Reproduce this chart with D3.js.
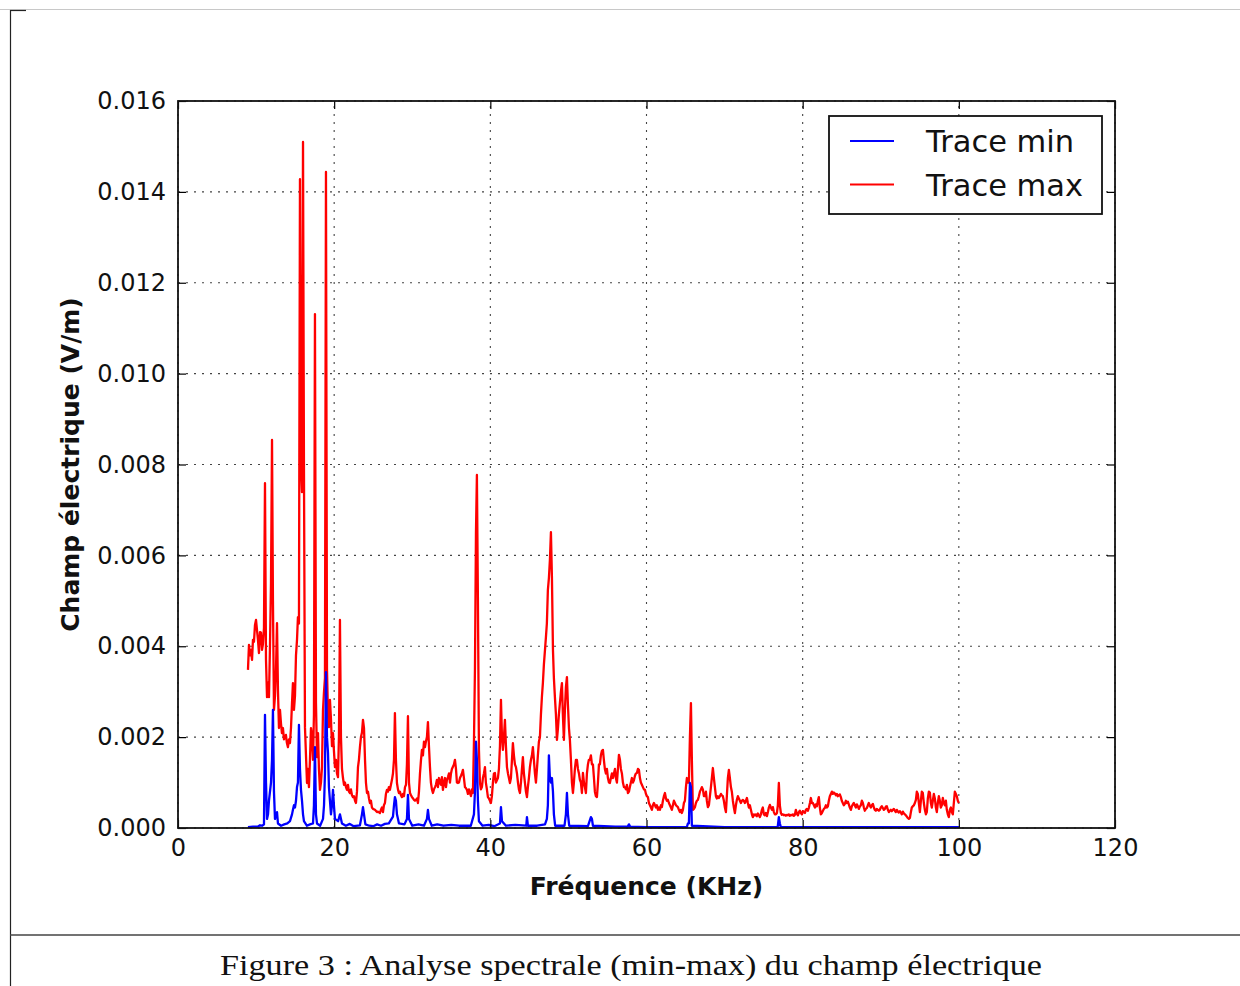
<!DOCTYPE html>
<html><head><meta charset="utf-8">
<script src="https://cdn.jsdelivr.net/npm/d3@7"></script>
<style>html,body{margin:0;padding:0;background:#fff;}svg{display:block;}</style>
</head><body>
<svg id="chart" width="1240" height="986"></svg>
<script>
// ---------- DATA ----------
const xTicks = [0, 20, 40, 60, 80, 100, 120];
const yTicks = [0, 0.002, 0.004, 0.006, 0.008, 0.010, 0.012, 0.014, 0.016];
const seriesNames = ["Trace min", "Trace max"];
const xLabel = "Fréquence (KHz)";
const yLabel = "Champ électrique (V/m)";
const caption = "Figure 3 : Analyse spectrale (min-max) du champ électrique";

// Trace max : [frequency kHz, field V/m]
const traceMax = [
[8.96,.00348],[9.09,.00403],[9.22,.0038],[9.35,.00392],[9.48,.0037],[9.60,.00414],[9.73,.0041],[9.86,.00447],[9.99,.00458],[10.12,.00435],
[10.24,.00414],[10.37,.00385],[10.50,.00431],[10.63,.0043],[10.76,.00392],[10.88,.00405],[11.01,.0044],[11.14,.00759],[11.27,.0037],[11.40,.00288],
[11.53,.0032],[11.65,.00288],[11.78,.004],[11.91,.00539],[12.04,.00854],[12.16,.005],[12.29,.0026],[12.42,.0029],[12.55,.0035],[12.68,.00451],
[12.80,.00304],[12.93,.0022],[13.06,.0026],[13.19,.0023],[13.31,.00209],[13.44,.0022],[13.57,.00195],[13.70,.002],[13.82,.00205],[13.95,.00187],
[14.08,.00178],[14.21,.00195],[14.34,.00187],[14.47,.0022],[14.60,.00275],[14.72,.00319],[14.85,.0026],[14.98,.0029],[15.11,.0038],[15.24,.00414],
[15.36,.00464],[15.49,.0045],[15.62,.01428],[15.75,.008],[15.88,.00739],[16.01,.0151],[16.13,.008],[16.26,.00222],[16.39,.0016],[16.52,.00099],
[16.64,.0013],[16.77,.0009],[16.90,.0015],[17.03,.0022],[17.16,.002],[17.29,.0015],[17.41,.0025],[17.54,.01131],[17.67,.00275],[17.80,.00156],
[17.93,.00209],[18.05,.0013],[18.18,.00084],[18.31,.001],[18.44,.00134],[18.57,.0026],[18.70,.003],[18.82,.0033],[18.95,.01444],[19.08,.0035],
[19.21,.0025],[19.33,.00222],[19.46,.00282],[19.59,.0024],[19.72,.0018],[19.85,.00209],[19.97,.0017],[20.10,.00134],[20.23,.0015],[20.36,.0012],
[20.49,.00112],[20.61,.002],[20.74,.00458],[20.87,.002],[21.00,.0013],[21.13,.0011],[21.26,.00095],[21.38,.001],[21.51,.0009],[21.64,.00084],
[21.77,.00095],[21.89,.0008],[22.02,.00077],[22.15,.00085],[22.28,.00072],[22.41,.00068],[22.54,.0007],[22.67,.0006],[22.79,.00055],[22.92,.0008],
[23.05,.00134],[23.17,.0015],[23.30,.00178],[23.43,.002],[23.56,.0021],[23.69,.00238],[23.82,.0022],[23.95,.0015],[24.07,.001],[24.20,.00077],
[24.33,.0008],[24.46,.00065],[24.58,.00055],[24.71,.0006],[24.84,.00045],[24.97,.00042],[25.22,.0004],[25.48,.00035],[25.61,.00036],[25.86,.00033],
[25.99,.0004],[26.12,.00045],[26.25,.00035],[26.37,.0005],[26.50,.00055],[26.63,.00075],[26.76,.00084],[26.89,.0008],[27.01,.0009],[27.14,.00084],
[27.27,.00095],[27.40,.00106],[27.53,.0012],[27.66,.0015],[27.78,.00253],[27.91,.0015],[28.04,.00099],[28.17,.00085],[28.29,.00077],[28.42,.0008],
[28.55,.00072],[28.68,.00068],[28.81,.00075],[28.94,.0007],[29.07,.0009],[29.20,.00095],[29.32,.0014],[29.45,.00246],[29.58,.001],[29.71,.00077],
[29.84,.00072],[29.97,.00068],[30.10,.00065],[30.22,.00062],[30.35,.0006],[30.48,.00062],[30.61,.00065],[30.73,.00055],[30.86,.0008],[30.99,.0012],
[31.12,.0015],[31.24,.00172],[31.37,.0016],[31.50,.0019],[31.63,.00178],[31.75,.0019],[31.88,.002],[32.01,.00233],[32.14,.0018],[32.27,.00134],
[32.39,.001],[32.52,.00085],[32.65,.00077],[32.78,.00085],[32.91,.0009],[33.03,.00095],[33.16,.00106],[33.29,.0009],[33.42,.0011],[33.55,.001],
[33.68,.00095],[33.80,.00112],[33.93,.00084],[34.06,.001],[34.19,.0011],[34.32,.0009],[34.44,.00106],[34.57,.00112],[34.70,.0012],[34.83,.001],
[34.96,.0012],[35.08,.0013],[35.21,.00135],[35.34,.0014],[35.47,.0015],[35.60,.0013],[35.72,.001],[35.85,.00099],[35.98,.001],[36.11,.0011],
[36.24,.00115],[36.36,.0012],[36.49,.00128],[36.62,.0011],[36.75,.0009],[36.87,.00088],[37.00,.00084],[37.13,.00075],[37.26,.00085],[37.39,.00077],
[37.52,.0007],[37.64,.00085],[37.77,.00077],[37.90,.00187],[38.03,.0035],[38.16,.0065],[38.28,.00777],[38.41,.005],[38.54,.00172],[38.67,.001],
[38.79,.00085],[38.92,.0009],[39.05,.0011],[39.18,.0012],[39.31,.00134],[39.43,.001],[39.56,.00085],[39.69,.00068],[39.82,.00065],[39.95,.0006],
[40.07,.00055],[40.20,.0007],[40.33,.001],[40.46,.0012],[40.59,.00121],[40.71,.001],[40.84,.00105],[40.97,.0011],[41.10,.0013],[41.23,.0018],
[41.36,.00282],[41.49,.002],[41.61,.00172],[41.74,.002],[41.87,.00238],[42.00,.0018],[42.13,.00134],[42.26,.0012],[42.38,.0011],[42.51,.00099],
[42.64,.0011],[42.77,.0015],[42.89,.00187],[43.02,.0016],[43.15,.0014],[43.28,.00134],[43.41,.0012],[43.54,.001],[43.66,.00085],[43.79,.00077],
[43.92,.001],[44.05,.0013],[44.17,.00156],[44.30,.0012],[44.43,.001],[44.56,.0008],[44.69,.00068],[44.81,.0009],[44.94,.0011],[45.07,.00134],
[45.20,.0015],[45.33,.0016],[45.45,.00178],[45.58,.0015],[45.71,.0012],[45.84,.001],[45.97,.0013],[46.09,.0016],[46.22,.0019],[46.35,.002],
[46.48,.0025],[46.61,.0029],[46.73,.00319],[46.86,.0036],[46.99,.0039],[47.12,.0042],[47.24,.0045],[47.37,.00524],[47.50,.0055],[47.63,.0059],
[47.76,.00651],[47.89,.0055],[48.02,.00392],[48.14,.0033],[48.27,.00288],[48.40,.0025],[48.53,.00194],[48.66,.0022],[48.78,.0025],[48.91,.00275],
[49.04,.003],[49.17,.00319],[49.29,.0025],[49.42,.00194],[49.55,.0026],[49.68,.0031],[49.81,.00332],[49.94,.0027],[50.07,.0022],[50.19,.00194],
[50.32,.0015],[50.45,.001],[50.58,.00077],[50.70,.001],[50.83,.0013],[50.96,.0015],[51.09,.0015],[51.22,.0013],[51.35,.0012],[51.47,.00106],
[51.60,.001],[51.73,.00077],[51.86,.00121],[51.99,.001],[52.11,.0009],[52.24,.00077],[52.37,.0012],[52.50,.0014],[52.62,.0015],[52.75,.0015],
[52.88,.0016],[53.01,.0014],[53.14,.0014],[53.27,.0011],[53.39,.0008],[53.52,.0007],[53.65,.00068],[53.78,.001],[53.91,.0014],[54.03,.0014],
[54.16,.0016],[54.29,.0017],[54.42,.00172],[54.54,.0015],[54.67,.0013],[54.80,.0012],[54.93,.0013],[55.06,.0011],[55.19,.001],[55.31,.00099],
[55.44,.0011],[55.57,.0012],[55.70,.0011],[55.83,.0012],[55.96,.0013],[56.08,.0011],[56.21,.001],[56.34,.0013],[56.47,.00161],[56.60,.0015],
[56.72,.0013],[56.85,.0012],[56.98,.001],[57.11,.0009],[57.23,.0009],[57.36,.00085],[57.49,.00095],[57.62,.00077],[57.75,.0008],[57.87,.0009],
[58.00,.001],[58.13,.0011],[58.26,.001],[58.39,.00105],[58.52,.00115],[58.64,.0012],[58.77,.00121],[58.90,.0013],[59.03,.00128],[59.16,.0011],
[59.28,.001],[59.41,.00095],[59.54,.0009],[59.67,.00085],[59.80,.00084],[59.93,.00075],[60.05,.0007],[60.18,.00068],[60.31,.00055],[60.44,.0005],
[60.57,.00045],[60.69,.0004],[60.82,.0005],[60.95,.00055],[61.08,.0005],[61.21,.00045],[61.33,.0005],[61.46,.0004],[61.59,.00045],[61.72,.0004],
[61.85,.0005],[61.97,.00046],[62.10,.0006],[62.23,.0007],[62.36,.00077],[62.49,.00065],[62.61,.0006],[62.74,.00062],[62.87,.00055],[63.00,.0005],
[63.13,.00045],[63.25,.0004],[63.38,.0005],[63.51,.0006],[63.64,.00055],[63.77,.0005],[63.89,.00048],[64.02,.00046],[64.15,.0004],[64.28,.00035],
[64.41,.0004],[64.53,.00033],[64.66,.0004],[64.79,.00055],[64.92,.0006],[65.05,.0009],[65.17,.0011],[65.30,.001],[65.43,.001],[65.56,.002],
[65.69,.00275],[65.81,.0015],[65.94,.0004],[66.07,.00042],[66.20,.00046],[66.33,.00055],[66.45,.0006],[66.58,.00062],[66.71,.0007],[66.84,.0008],
[66.97,.00085],[67.09,.0009],[67.22,.00085],[67.35,.0007],[67.48,.0007],[67.61,.0008],[67.73,.0006],[67.86,.00046],[67.99,.0005],[68.12,.0007],
[68.25,.0009],[68.37,.0011],[68.50,.00132],[68.63,.0011],[68.76,.0009],[68.89,.0007],[69.01,.00065],[69.14,.0007],[69.27,.00066],[69.40,.0007],
[69.53,.00075],[69.65,.00072],[69.78,.0007],[69.91,.0006],[70.04,.00045],[70.17,.00035],[70.29,.0007],[70.42,.0011],[70.55,.00128],[70.68,.0011],
[70.81,.0009],[70.93,.0008],[71.06,.0006],[71.19,.00045],[71.32,.00033],[71.45,.0005],[71.57,.00062],[71.70,.0007],[71.83,.00065],[71.96,.0006],
[72.09,.00055],[72.21,.0006],[72.34,.00062],[72.47,.0006],[72.60,.00055],[72.73,.0006],[72.86,.00066],[72.98,.00055],[73.11,.00045],[73.24,.0005],
[73.37,.0004],[73.50,.0003],[73.62,.00024],[73.75,.0003],[73.88,.00028],[74.01,.0003],[74.14,.00026],[74.27,.00032],[74.39,.00028],[74.52,.00024],
[74.65,.0003],[74.78,.0004],[74.90,.00045],[75.03,.0003],[75.16,.00028],[75.29,.00033],[75.42,.00026],[75.55,.00035],[75.67,.00045],[75.80,.00051],
[75.93,.00045],[76.06,.0004],[76.18,.00046],[76.31,.00035],[76.44,.0003],[76.57,.0003],[76.70,.00033],[76.82,.0005],[76.95,.00099],[77.08,.0005],
[77.21,.00033],[77.34,.00029],[77.47,.0003],[77.59,.00028],[77.72,.00029],[77.85,.00027],[77.98,.00029],[78.11,.00028],[78.23,.0003],[78.36,.00027],
[78.49,.00029],[78.62,.00028],[78.75,.0003],[78.88,.00027],[79.00,.00029],[79.13,.0004],[79.26,.00031],[79.39,.00028],[79.52,.00035],[79.64,.00038],
[79.77,.00033],[79.90,.0003],[80.03,.00037],[80.16,.00035],[80.29,.00033],[80.41,.0004],[80.54,.00042],[80.67,.00038],[80.80,.00045],[80.93,.00055],
[81.05,.00066],[81.18,.00055],[81.31,.00055],[81.44,.0005],[81.57,.00045],[81.69,.00052],[81.82,.00048],[81.95,.0006],[82.07,.00068],[82.20,.00045],
[82.33,.0003],[82.46,.00033],[82.59,.00038],[82.71,.00042],[82.84,.00044],[82.97,.0005],[83.10,.00045],[83.23,.00048],[83.35,.0006],[83.48,.0007],
[83.61,.00075],[83.74,.0008],[83.87,.00075],[83.99,.00078],[84.12,.00076],[84.25,.00072],[84.38,.00075],[84.50,.0007],[84.63,.00072],[84.76,.00074],
[84.89,.00068],[85.01,.0006],[85.14,.00055],[85.27,.0005],[85.40,.00053],[85.53,.0006],[85.65,.00055],[85.79,.00058],[85.91,.00052],[86.04,.00045],
[86.17,.0004],[86.30,.00048],[86.43,.00052],[86.55,.00055],[86.68,.0005],[86.81,.00045],[86.94,.00052],[87.07,.00048],[87.19,.00042],[87.32,.00047],
[87.45,.0005],[87.58,.0006],[87.71,.00055],[87.84,.00045],[87.96,.00038],[88.09,.00042],[88.22,.00044],[88.35,.0005],[88.47,.00055],[88.60,.00049],
[88.73,.00045],[88.86,.0005],[88.99,.00053],[89.12,.00045],[89.24,.0004],[89.37,.00038],[89.50,.00042],[89.63,.0004],[89.76,.00038],[89.88,.0004],
[90.01,.00045],[90.14,.00048],[90.27,.00044],[90.40,.0004],[90.52,.00042],[90.65,.00047],[90.78,.00048],[90.91,.0004],[91.04,.00035],[91.17,.00038],
[91.29,.0004],[91.42,.00037],[91.55,.0004],[91.68,.00042],[91.81,.00038],[91.93,.00035],[92.06,.0004],[92.19,.00036],[92.32,.00034],[92.45,.00037],
[92.57,.00034],[92.70,.0003],[92.83,.00036],[92.96,.00032],[93.09,.0003],[93.21,.00028],[93.34,.00025],[93.47,.00022],[93.60,.0002],[93.73,.00022],
[93.86,.00035],[93.98,.00045],[94.11,.00048],[94.24,.0005],[94.37,.00055],[94.50,.00062],[94.62,.0008],[94.75,.00075],[94.88,.00055],[95.01,.00035],
[95.14,.0006],[95.26,.0008],[95.39,.00077],[95.52,.00055],[95.65,.0004],[95.78,.0003],[95.90,.00035],[96.03,.00065],[96.16,.0008],[96.29,.00078],
[96.42,.00055],[96.54,.00045],[96.67,.0006],[96.80,.00075],[96.93,.00065],[97.06,.00045],[97.18,.00035],[97.31,.00055],[97.44,.0007],[97.57,.0006],
[97.69,.00045],[97.82,.0005],[97.95,.00066],[98.08,.00055],[98.21,.0005],[98.34,.0006],[98.46,.0004],[98.59,.0003],[98.72,.00024],[98.85,.0004],
[98.98,.00045],[99.10,.00035],[99.23,.0003],[99.36,.00055],[99.49,.0008],[99.62,.00075],[99.74,.0007],[99.87,.0006],[100.0,.00055]
];

// Trace min : [frequency kHz, field V/m]
const traceMin = [
[8.96,.00002],[9.6,.00003],[10.2,.00003],[10.5,.00006],[10.8,.00005],[11.01,.00008],[11.14,.00249],[11.27,.001],[11.40,.0002],[11.53,.0003],[11.65,.0006],
[11.78,.0008],[11.91,.001],[12.04,.0015],[12.16,.0026],[12.29,.0008],[12.42,.0002],[12.55,.0003],[12.68,.00035],[12.80,.0001],[13.2,.00005],
[13.6,.00008],[14.0,.0001],[14.34,.00015],[14.60,.0003],[14.72,.0004],[14.85,.0005],[14.98,.00045],[15.11,.0006],[15.24,.0009],[15.36,.001],
[15.49,.00227],[15.62,.0013],[15.75,.00084],[15.88,.0006],[16.01,.0003],[16.13,.00015],[16.5,.00005],[16.9,.00008],[17.29,.0001],[17.41,.0005],
[17.54,.00178],[17.67,.0003],[17.80,.0001],[18.2,.00005],[18.57,.0002],[18.70,.0005],[18.82,.0012],[18.95,.00343],[19.08,.002],[19.21,.00165],
[19.33,.0009],[19.46,.0006],[19.59,.0003],[19.72,.0005],[19.85,.00084],[19.97,.0005],[20.10,.0002],[20.5,.00015],[20.74,.0003],[21.0,.0001],
[21.5,.00005],[22.0,.00009],[22.5,.00004],[23.3,.00006],[23.56,.0003],[23.69,.00046],[23.82,.0003],[24.0,.00008],[24.5,.00005],[25.0,.00004],[25.5,.00008],[26.0,.00005],[26.5,.00009],[27.0,.0001],
[27.53,.00025],[27.66,.0005],[27.78,.00068],[27.91,.0006],[28.04,.0003],[28.3,.0001],[29.0,.00008],[29.32,.0002],[29.45,.00073],[29.58,.0002],
[30.0,.00005],[30.8,.00008],[31.5,.00005],[31.88,.0002],[32.01,.0004],[32.14,.0002],[32.5,.00005],[33.2,.00008],[34,.00005],[35,.00007],[36,.00005],[37.5,.00005],[37.90,.0003],
[38.03,.0008],[38.16,.0019],[38.28,.0015],[38.41,.0006],[38.54,.00015],[39,.00005],[39.8,.00007],[40.5,.00004],[41.23,.0001],[41.36,.00046],[41.49,.00015],
[42,.00005],[43.2,.00007],[44.6,.00005],[44.69,.00024],[44.81,.00005],[46,.00005],[47.0,.00008],[47.24,.0002],[47.37,.0005],[47.50,.0016],[47.63,.0011],
[47.76,.001],[47.89,.0011],[48.02,.0008],[48.14,.0003],[48.3,.00005],[49.5,.00005],[49.68,.0003],[49.81,.00077],[49.94,.0003],[50.1,.00005],
[52.5,.00004],[52.88,.00024],[53.01,.0002],[53.14,.00005],[56,.00003],[57.6,.00003],[57.75,.00008],[57.9,.00003],[60,.00002],[65.17,.00002],
[65.30,.0001],[65.43,.0001],[65.56,.00099],[65.69,.0009],[65.81,.00005],[70,.00002],[76.8,.00002],[76.95,.00024],[77.08,.0001],[77.2,.00002],
[100,.00002]
];

// ---------- DRAWING ----------
const svg = d3.select("#chart");
const plot = {left: 178, right: 1115, top: 101, bottom: 828};
const x = d3.scaleLinear().domain([0, 120]).range([plot.left, plot.right]);
const y = d3.scaleLinear().domain([0, 0.016]).range([plot.bottom, plot.top]);
const tickFont = "'DejaVu Sans', Verdana, sans-serif";

// outer page frame
svg.append("line").attr("x1", 0).attr("x2", 1240).attr("y1", 9.5).attr("y2", 9.5)
  .attr("stroke", "#c8c8c8").attr("stroke-width", 1);
svg.append("line").attr("x1", 10).attr("x2", 26).attr("y1", 10.5).attr("y2", 10.5)
  .attr("stroke", "#222").attr("stroke-width", 1.2);
svg.append("line").attr("x1", 10.5).attr("x2", 10.5).attr("y1", 10).attr("y2", 986)
  .attr("stroke", "#222").attr("stroke-width", 1.2);
svg.append("line").attr("x1", 10).attr("x2", 1240).attr("y1", 935).attr("y2", 935)
  .attr("stroke", "#444").attr("stroke-width", 1.6);

// grid
const grid = svg.append("g").attr("stroke", "#444").attr("stroke-width", 1.1)
  .attr("stroke-dasharray", "2,6");
grid.selectAll(".gx").data(xTicks).join("line")
  .attr("x1", d => x(d)).attr("x2", d => x(d)).attr("y1", plot.bottom).attr("y2", plot.top);
grid.selectAll(".gy").data(yTicks).join("line")
  .attr("y1", d => y(d)).attr("y2", d => y(d)).attr("x1", plot.left).attr("x2", plot.right);

// data lines
const line = d3.line().x(d => x(d[0])).y(d => y(d[1]));
svg.append("path").datum(traceMax).attr("d", line)
  .attr("fill", "none").attr("stroke", "#ff0000").attr("stroke-width", 2.3).attr("stroke-linejoin", "round");
svg.append("path").datum(traceMin).attr("d", line)
  .attr("fill", "none").attr("stroke", "#0000ff").attr("stroke-width", 2.3).attr("stroke-linejoin", "round");

// axes (ticks inside, matplotlib classic)
function styleAxis(g) {
  g.select(".domain").remove();
  g.selectAll(".tick line").attr("stroke", "#000").attr("stroke-width", 1.2);
  g.selectAll(".tick text").attr("fill", "#111").style("font-family", tickFont).style("font-size", "24px");
}
svg.append("g").attr("transform", `translate(0,${plot.bottom})`)
  .call(d3.axisBottom(x).tickValues(xTicks).tickSizeInner(-8).tickSizeOuter(0).tickPadding(11).tickFormat(d3.format("d")))
  .call(styleAxis);
svg.append("g").attr("transform", `translate(0,${plot.top})`)
  .call(d3.axisTop(x).tickValues(xTicks).tickSizeInner(-8).tickSizeOuter(0).tickFormat(""))
  .call(styleAxis);
svg.append("g").attr("transform", `translate(${plot.left},0)`)
  .call(d3.axisLeft(y).tickValues(yTicks).tickSizeInner(-8).tickSizeOuter(0).tickPadding(12).tickFormat(d3.format(".3f")))
  .call(styleAxis);
svg.append("g").attr("transform", `translate(${plot.right},0)`)
  .call(d3.axisRight(y).tickValues(yTicks).tickSizeInner(-8).tickSizeOuter(0).tickFormat(""))
  .call(styleAxis);

// plot frame
svg.append("rect").attr("x", plot.left).attr("y", plot.top)
  .attr("width", plot.right - plot.left).attr("height", plot.bottom - plot.top)
  .attr("fill", "none").attr("stroke", "#111").attr("stroke-width", 1.8);

// axis labels
svg.append("text").attr("x", (plot.left + plot.right) / 2).attr("y", 895)
  .attr("text-anchor", "middle").style("font-family", tickFont).style("font-weight", "bold")
  .style("font-size", "25px").attr("fill", "#111").text(xLabel);
svg.append("text").attr("transform", `translate(79,${(plot.top + plot.bottom) / 2}) rotate(-90)`)
  .attr("text-anchor", "middle").style("font-family", tickFont).style("font-weight", "bold")
  .style("font-size", "25px").attr("fill", "#111").text(yLabel);

// legend
const lg = svg.append("g");
lg.append("rect").attr("x", 829).attr("y", 116).attr("width", 273).attr("height", 98)
  .attr("fill", "#fff").attr("stroke", "#111").attr("stroke-width", 1.8);
const legColors = ["#0000ff", "#ff0000"];
seriesNames.forEach((name, i) => {
  const cy = 141 + i * 43.5;
  lg.append("line").attr("x1", 850).attr("x2", 894).attr("y1", cy).attr("y2", cy)
    .attr("stroke", legColors[i]).attr("stroke-width", 2);
  lg.append("text").attr("x", 926).attr("y", cy + 11)
    .style("font-family", tickFont).style("font-size", "30.5px").attr("fill", "#111").text(name);
});

// caption
svg.append("text").attr("x", 631).attr("y", 975).attr("text-anchor", "middle")
  .attr("textLength", 822).attr("lengthAdjust", "spacingAndGlyphs")
  .style("font-family", "'Liberation Serif', 'DejaVu Serif', serif").style("font-size", "29px")
  .attr("fill", "#111").text(caption);
</script>
</body></html>
